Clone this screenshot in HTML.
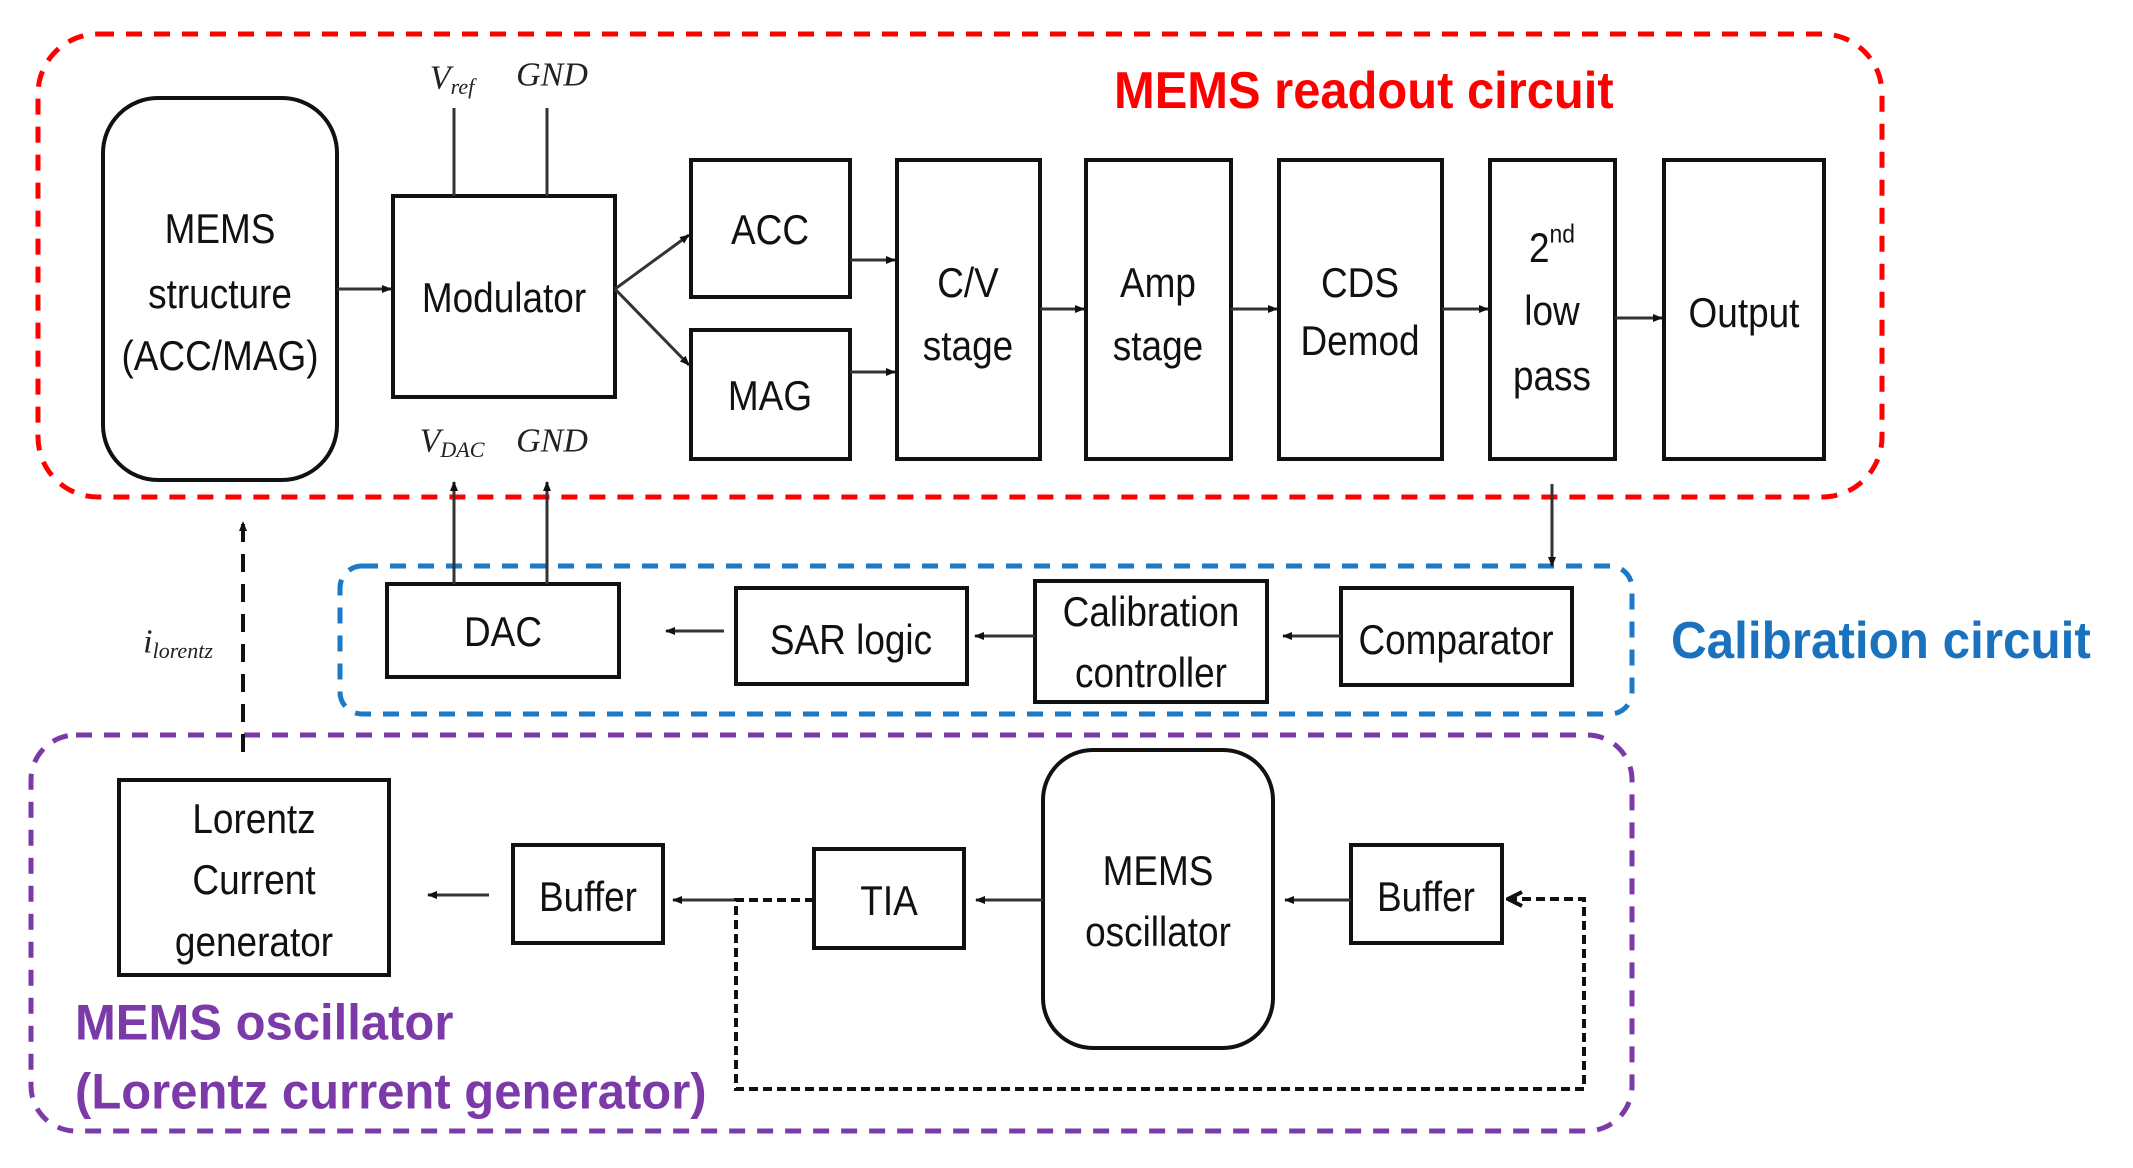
<!DOCTYPE html>
<html><head><meta charset="utf-8"><style>
html,body{margin:0;padding:0;background:#fff}
svg{display:block}
.t{font-family:"Liberation Sans",sans-serif;font-size:42px;fill:#111;text-anchor:middle;dominant-baseline:central;transform-box:fill-box;transform-origin:center;transform:scaleX(0.88)}
.h{font-family:"Liberation Sans",sans-serif;font-weight:bold;dominant-baseline:central;transform-box:fill-box;transform-origin:left center}
.m{font-family:"Liberation Serif",serif;font-style:italic;font-size:34px;fill:#222;text-anchor:middle;dominant-baseline:central}
.b{fill:#fff;stroke:#111;stroke-width:4}
.a{stroke:#333;stroke-width:3;fill:none}
</style></head><body>
<svg width="2133" height="1168" viewBox="0 0 2133 1168" xmlns="http://www.w3.org/2000/svg">
<defs>
<marker id="ar" markerWidth="10" markerHeight="10" refX="9" refY="5" orient="auto" markerUnits="userSpaceOnUse"><path d="M0,1 L10,5 L0,9 z" fill="#111"/></marker>
<marker id="ar2" markerWidth="18" markerHeight="18" refX="16" refY="9" orient="auto" markerUnits="userSpaceOnUse"><path d="M2,2 L16,9 L2,16" fill="none" stroke="#111" stroke-width="4"/></marker>
</defs>
<rect x="38" y="34" width="1844" height="463" rx="60" fill="none" stroke="#f00" stroke-width="5" stroke-dasharray="16,12"/>
<rect x="340" y="566" width="1292" height="148" rx="22" fill="none" stroke="#1a7ac8" stroke-width="5" stroke-dasharray="16,12"/>
<rect x="31" y="735" width="1601" height="396" rx="45" fill="none" stroke="#7b3aa8" stroke-width="5" stroke-dasharray="16,12"/>
<text class="h" x="1114" y="90" font-size="52" fill="#f00" style="transform:scaleX(0.94)">MEMS readout circuit</text>
<text class="h" x="1671" y="640" font-size="52" fill="#1a72be" style="transform:scaleX(0.95)">Calibration circuit</text>
<text class="h" x="75" y="1023" font-size="50" fill="#7b3aa8" style="transform:scaleX(0.98)">MEMS oscillator</text>
<text class="h" x="75" y="1092" font-size="50" fill="#7b3aa8" style="transform:scaleX(0.98)">(Lorentz current generator)</text>

<rect class="b" x="103" y="98" width="234" height="382" rx="55"/>
<text class="t" x="220" y="229">MEMS</text><text class="t" x="220" y="294">structure</text><text class="t" x="220" y="356">(ACC/MAG)</text>
<rect class="b" x="393" y="196" width="222" height="201"/>
<text class="t" x="504" y="298">Modulator</text>
<line class="a" x1="454" y1="108" x2="454" y2="196"/><line class="a" x1="547" y1="108" x2="547" y2="196"/>
<text class="m" x="452" y="78">V<tspan font-size="22" dy="8">ref</tspan></text>
<text class="m" x="552" y="75">GND</text>
<text class="m" x="452" y="441">V<tspan font-size="22" dy="8">DAC</tspan></text>
<text class="m" x="552" y="441">GND</text>
<rect class="b" x="691" y="160" width="159" height="137"/><text class="t" x="770" y="230">ACC</text>
<rect class="b" x="691" y="330" width="159" height="129"/><text class="t" x="770" y="396">MAG</text>
<rect class="b" x="897" y="160" width="143" height="299"/><text class="t" x="968" y="283">C/V</text><text class="t" x="968" y="346">stage</text>
<rect class="b" x="1086" y="160" width="145" height="299"/><text class="t" x="1158" y="283">Amp</text><text class="t" x="1158" y="346">stage</text>
<rect class="b" x="1279" y="160" width="163" height="299"/><text class="t" x="1360" y="283">CDS</text><text class="t" x="1360" y="341">Demod</text>
<rect class="b" x="1490" y="160" width="125" height="299"/><text class="t" x="1552" y="248">2<tspan font-size="26" dy="-14">nd</tspan></text><text class="t" x="1552" y="311">low</text><text class="t" x="1552" y="376">pass</text>
<rect class="b" x="1664" y="160" width="160" height="299"/><text class="t" x="1744" y="313">Output</text>
<line class="a" x1="337" y1="289" x2="391" y2="289" marker-end="url(#ar)"/>
<line class="a" x1="615" y1="289" x2="689" y2="235" marker-end="url(#ar)"/>
<line class="a" x1="615" y1="289" x2="689" y2="365" marker-end="url(#ar)"/>
<line class="a" stroke="#888" x1="850" y1="260" x2="895" y2="260" marker-end="url(#ar)"/>
<line class="a" stroke="#888" x1="850" y1="372" x2="895" y2="372" marker-end="url(#ar)"/>
<line class="a" x1="1040" y1="309" x2="1084" y2="309" marker-end="url(#ar)"/>
<line class="a" x1="1231" y1="309" x2="1277" y2="309" marker-end="url(#ar)"/>
<line class="a" stroke="#888" x1="1442" y1="309" x2="1488" y2="309" marker-end="url(#ar)"/>
<line class="a" stroke-width="5" x1="1615" y1="318" x2="1662" y2="318" marker-end="url(#ar)"/>
<line class="a" stroke-width="2" x1="1552" y1="484" x2="1552" y2="566" marker-end="url(#ar)"/>

<rect class="b" x="387" y="584" width="232" height="93"/><text class="t" x="503" y="632">DAC</text>
<rect class="b" x="736" y="588" width="231" height="96"/><text class="t" x="851" y="640">SAR logic</text>
<rect class="b" x="1035" y="581" width="232" height="121"/><text class="t" x="1151" y="612">Calibration</text><text class="t" x="1151" y="673">controller</text>
<rect class="b" x="1341" y="588" width="231" height="97"/><text class="t" x="1456" y="640">Comparator</text>
<line class="a" stroke="#999" stroke-width="2" x1="454" y1="584" x2="454" y2="482" marker-end="url(#ar)"/>
<line class="a" stroke-width="2" x1="547" y1="584" x2="547" y2="482" marker-end="url(#ar)"/>
<line class="a" x1="724" y1="631" x2="666" y2="631" marker-end="url(#ar)"/>
<line class="a" x1="1035" y1="636" x2="975" y2="636" marker-end="url(#ar)"/>
<line class="a" x1="1341" y1="636" x2="1283" y2="636" marker-end="url(#ar)"/>

<rect class="b" x="119" y="780" width="270" height="195"/><text class="t" x="254" y="819">Lorentz</text><text class="t" x="254" y="880">Current</text><text class="t" x="254" y="942">generator</text>
<rect class="b" x="513" y="845" width="150" height="98"/><text class="t" x="588" y="897">Buffer</text>
<rect class="b" x="814" y="849" width="150" height="99"/><text class="t" x="889" y="901">TIA</text>
<rect class="b" x="1043" y="750" width="230" height="298" rx="50"/><text class="t" x="1158" y="871">MEMS</text><text class="t" x="1158" y="932">oscillator</text>
<rect class="b" x="1351" y="845" width="151" height="98"/><text class="t" x="1426" y="897">Buffer</text>
<line class="a" x1="489" y1="895" x2="428" y2="895" marker-end="url(#ar)"/>
<line class="a" stroke="#777" x1="736" y1="900" x2="673" y2="900" marker-end="url(#ar)"/>
<line class="a" x1="1043" y1="900" x2="976" y2="900" marker-end="url(#ar)"/>
<line class="a" x1="1351" y1="900" x2="1285" y2="900" marker-end="url(#ar)"/>
<path d="M814,900 H736 V1089 H1584 V899 H1508" fill="none" stroke="#111" stroke-width="4" stroke-dasharray="9,5" marker-end="url(#ar2)"/>
<line x1="243" y1="752" x2="243" y2="522" stroke="#111" stroke-width="4" stroke-dasharray="18,12" marker-end="url(#ar)"/>
<text class="m" x="178" y="642" font-size="30">i<tspan font-size="22" dy="8">lorentz</tspan></text>
</svg>
</body></html>
